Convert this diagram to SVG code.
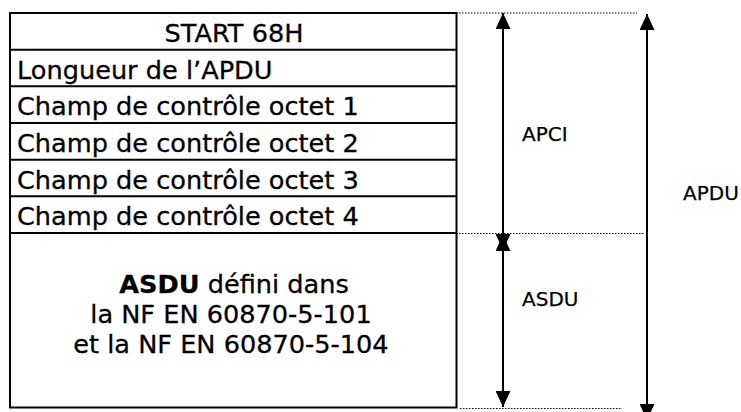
<svg xmlns="http://www.w3.org/2000/svg" width="741" height="412" viewBox="0 0 741 412">
<style>
.t{font-family:"DejaVu Sans","Verdana",sans-serif;font-size:25.6px;fill:#000;stroke:#000;stroke-width:0.3}
.l{font-family:"DejaVu Sans","Verdana",sans-serif;font-size:20px;fill:#000;stroke:#000;stroke-width:0.25}
.box{fill:#fff;stroke:#000;stroke-width:2}
.sep{stroke:#000;stroke-width:2}
.dot{stroke:#000;stroke-width:1.2;stroke-dasharray:1.5 1.5;fill:none}
.arr{stroke:#000;stroke-width:2;fill:none}
</style>
<defs>
<marker id="ah" viewBox="0 0 16 15" refX="16" refY="7.5" markerWidth="16" markerHeight="15" markerUnits="userSpaceOnUse" orient="auto-start-reverse">
<path d="M0,0 L16,7.5 L0,15 Z" fill="#000"/>
</marker>
</defs>
<rect width="741" height="412" fill="#fff"/>
<g id="table">
<rect class="box" x="10" y="13" width="446.5" height="394.5"/>
<line class="sep" x1="10" y1="49.7" x2="456.5" y2="49.7"/>
<line class="sep" x1="10" y1="86.3" x2="456.5" y2="86.3"/>
<line class="sep" x1="10" y1="123" x2="456.5" y2="123"/>
<line class="sep" x1="10" y1="159.7" x2="456.5" y2="159.7"/>
<line class="sep" x1="10" y1="196.3" x2="456.5" y2="196.3"/>
<line class="sep" x1="10" y1="233" x2="456.5" y2="233"/>
</g>
<g id="row-start"><text class="t" x="234" y="42" text-anchor="middle">START 68H</text></g>
<g id="row-longueur"><text class="t" x="17" y="78.5">Longueur de l’APDU</text></g>
<g id="row-octet1"><text class="t" x="17" y="115">Champ de contrôle octet 1</text></g>
<g id="row-octet2"><text class="t" x="17" y="152">Champ de contrôle octet 2</text></g>
<g id="row-octet3"><text class="t" x="17" y="188.5">Champ de contrôle octet 3</text></g>
<g id="row-octet4"><text class="t" x="17" y="225">Champ de contrôle octet 4</text></g>
<g id="asdu-block">
<text class="t" x="234" y="293" text-anchor="middle"><tspan font-weight="bold">ASDU</tspan> défini dans</text>
<text class="t" x="231" y="323" text-anchor="middle">la NF EN 60870-5-101</text>
<text class="t" x="231" y="353" text-anchor="middle">et la NF EN 60870-5-104</text>
</g>
<g id="connectors">
<line class="dot" x1="453" y1="13" x2="637" y2="13"/>
<line class="dot" x1="447" y1="233.5" x2="645" y2="233.5"/>
<line class="dot" x1="460" y1="408.5" x2="622" y2="408.5"/>
<line class="arr" x1="503" y1="13" x2="503" y2="250" marker-start="url(#ah)" marker-end="url(#ah)"/>
<line class="arr" x1="503" y1="235" x2="503" y2="407" marker-start="url(#ah)" marker-end="url(#ah)"/>
<line class="arr" x1="647" y1="14" x2="647" y2="420" marker-start="url(#ah)" marker-end="url(#ah)"/>
</g>
<g id="label-apci"><text class="l" x="522" y="141">APCI</text></g>
<g id="label-asdu"><text class="l" x="522" y="306">ASDU</text></g>
<g id="label-apdu"><text class="l" x="683" y="200">APDU</text></g>
</svg>
